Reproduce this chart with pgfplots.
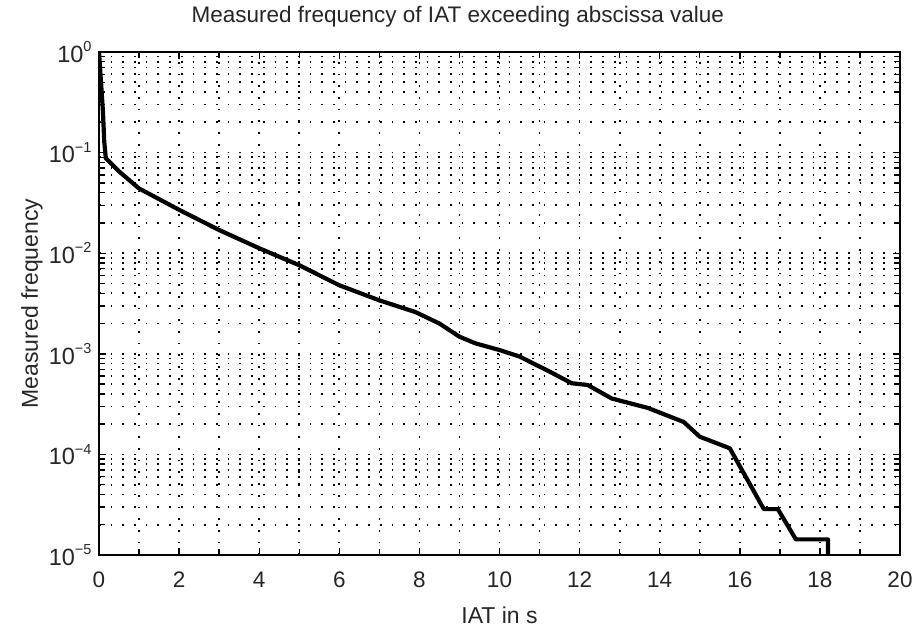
\documentclass[border=0pt]{standalone}
\usepackage{fontspec}
\setmainfont{Liberation Sans}
\usepackage{pgfplots}
\pgfplotsset{compat=1.18}
\newcommand{\expo}[1]{\raisebox{0.85ex}{\fontsize{14.5}{16}\selectfont #1}}
\begin{document}
\begin{tikzpicture}
\begin{semilogyaxis}[
  scale only axis,
  width=801pt, height=503pt,
  xmin=0, xmax=20, ymin=1e-5, ymax=1,
  xtick={0,2,...,20},
  minor xtick={1,3,...,19},
  ytick={1e-5,1e-4,1e-3,1e-2,1e-1,1},
  yticklabels={10\expo{−5},10\expo{−4},10\expo{−3},10\expo{−2},10\expo{−1},10\expo{0}},
  /pgf/number format/assume math mode=true,
  tick label style={font=\fontsize{22.5}{25}\selectfont, text=black!85},
  xticklabel style={anchor=base, yshift=-32pt},
  yticklabel style={xshift=-4pt, font=\fontsize{23.5}{26}\selectfont},
  label style={font=\fontsize{23}{26}\selectfont, text=black!85},
  title style={font=\fontsize{22.5}{25}\selectfont, text=black!85,
     at={(axis description cs:0.448,1.0477)}, anchor=base, yshift=0pt},
  title={Measured frequency of IAT exceeding abscissa value},
  xlabel={IAT in s},
  ylabel={Measured frequency},
  xlabel style={at={(axis description cs:0.5,-0.1352)}, anchor=base},
  ylabel style={at={(axis description cs:-0.0762,0.5)}, anchor=base},
  axis line style={line width=1.8pt, black},
  tick style={line width=1.4pt, black},
  major tick length=7pt,
  minor tick length=6pt,
  tick align=inside,
  grid=both,
  major grid style={line width=1.7pt, black, dash pattern=on 1.7pt off 10pt},
  minor grid style={line width=1.7pt, black, dash pattern=on 1.7pt off 10pt},
  clip=true,
]
\addplot[black, line width=4.2pt, line join=round] coordinates {
(0,1) (0.05,0.5) (0.1,0.25) (0.13,0.13) (0.17,0.088) (0.5,0.065)
(1,0.044) (2,0.027) (3,0.017) (4,0.0112) (5,0.0076) (6,0.0048)
(7,0.0034) (7.9,0.0026) (8.5,0.002) (9,0.00148) (9.4,0.00127)
(10,0.00109) (10.5,0.00094) (11.3,0.00065) (11.8,0.00051) (12.2,0.00049)
(12.8,0.00036) (13.7,0.00029) (14.6,0.00021) (15,0.00015) (15.75,0.000115)
(16.6,2.86e-5) (16.95,2.86e-5) (17.4,1.43e-5) (18.2,1.43e-5) (18.2,1e-6)
};
\end{semilogyaxis}
\pgfresetboundingbox
\path (current axis.south west) ++(-99pt,-75pt) coordinate (bl);
\path (current axis.north east) ++(15pt,52pt) coordinate (tr);
\useasboundingbox (bl) rectangle (tr);
\end{tikzpicture}
\end{document}
